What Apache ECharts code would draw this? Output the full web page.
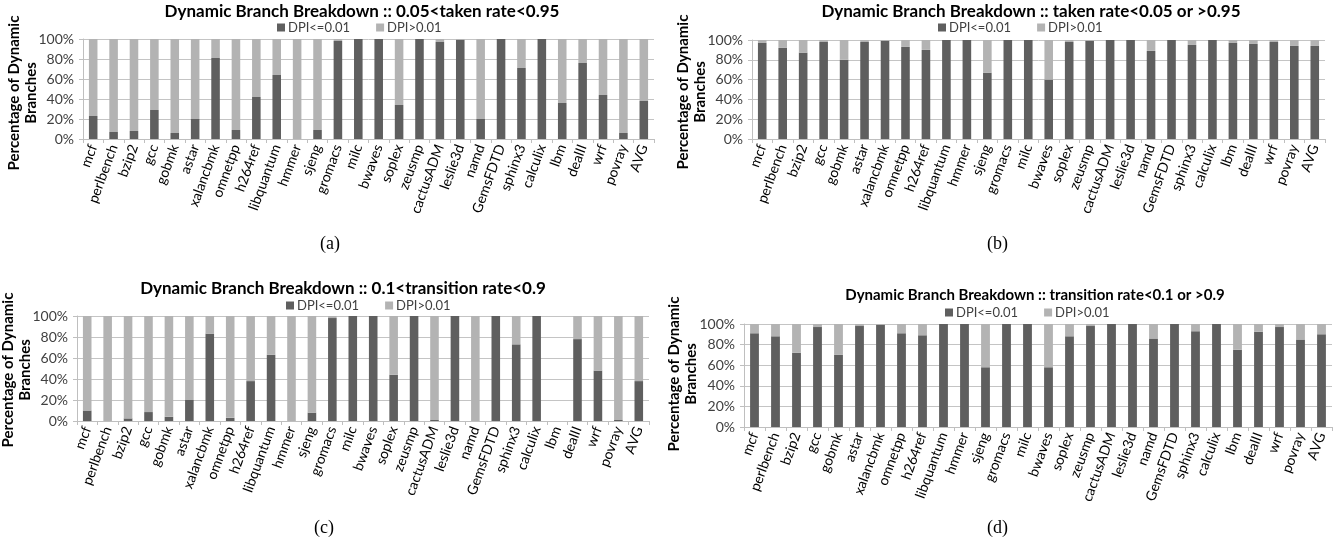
<!DOCTYPE html>
<html>
<head>
<meta charset="utf-8">
<script src="https://cdn.jsdelivr.net/npm/echarts@6/dist/echarts.min.js"></script>
<style>
  html, body { margin: 0; padding: 0; background: #fff; }
  #chart { width: 1343px; height: 548px; }
</style>
</head>
<body>
<div id="chart"></div>
<script>
// SPEC CPU2006 benchmarks (plus the average)
const benchmarks = ['mcf','perlbench','bzip2','gcc','gobmk','astar','xalancbmk','omnetpp','h264ref','libquantum','hmmer','sjeng','gromacs','milc','bwaves','soplex','zeusmp','cactusADM','leslie3d','namd','GemsFDTD','sphinx3','calculix','lbm','dealII','wrf','povray','AVG'];

const seriesNames = ['DPI<=0.01', 'DPI>0.01'];
const yTicks = [0, 20, 40, 60, 80, 100];
const yAxisTitle = 'Percentage of Dynamic\nBranches';

// (a) 0.05 < taken rate < 0.95
const takenMidLow  = [23, 7, 8, 29, 6, 20, 81, 9, 42, 64, 0, 9, 98, 100, 100, 34, 100, 97, 99, 20, 100, 71, 100, 36, 76, 44, 6, 38];
const takenMidHigh = [77, 93, 92, 71, 94, 80, 19, 91, 58, 36, 100, 91, 2, 0, 0, 66, 0, 3, 1, 80, 0, 29, 0, 64, 24, 56, 94, 62];

// (b) taken rate < 0.05 or > 0.95
const takenEdgeLow  = [97, 92, 87, 98, 80, 98, 99, 93, 90, 100, 100, 67, 100, 100, 60, 98, 99, 100, 100, 89, 100, 95, 100, 97, 96, 98, 94, 94];
const takenEdgeHigh = [3, 8, 13, 2, 20, 2, 1, 7, 10, 0, 0, 33, 0, 0, 40, 2, 1, 0, 0, 11, 0, 5, 0, 3, 4, 2, 6, 6];

// (c) 0.1 < transition rate < 0.9
const transMidLow  = [10, 0, 2.5, 8.5, 4, 20, 83, 3, 38, 63, 0, 8, 98, 100, 100, 44, 100, 1, 100, 0, 100, 73, 100, 0, 78, 48, 1, 38];
const transMidHigh = [90, 100, 97.5, 91.5, 96, 80, 17, 97, 62, 37, 100, 92, 2, 0, 0, 56, 0, 99, 0, 100, 0, 27, 0, 0, 22, 52, 99, 62];

// (d) transition rate < 0.1 or > 0.9
const transEdgeLow  = [91, 88, 72, 97, 70, 98, 99, 91, 89, 100, 100, 58, 100, 100, 58, 88, 98, 100, 100, 86, 100, 93, 100, 75, 92.5, 97, 85, 90];
const transEdgeHigh = [9, 12, 28, 3, 30, 2, 1, 9, 11, 0, 0, 42, 0, 0, 42, 12, 2, 0, 0, 14, 0, 7, 0, 25, 7.5, 3, 15, 10];

const panelTitles = [
  'Dynamic Branch Breakdown :: 0.05<taken rate<0.95',
  'Dynamic Branch Breakdown :: taken rate<0.05 or >0.95',
  'Dynamic Branch Breakdown :: 0.1<transition rate<0.9',
  'Dynamic Branch Breakdown :: transition rate<0.1 or >0.9'
];
const captions = ['(a)', '(b)', '(c)', '(d)'];

const FONT = 'Lato, "Open Sans", sans-serif';
const DARK = '#5f5f5f';
const LIGHT = '#b3b3b3';

// layout of the four panels
const panels = [
  { low: takenMidLow,   high: takenMidHigh,   grid: { left: 83,  width: 571, top: 39,  height: 100 }, titleX: 362,  titleY: 3,   titleSize: 17, legendX: 277, legendY: 21,  capX: 331, capY: 246, nameX: 23,  nameY: 93 },
  { low: takenEdgeLow,  high: takenEdgeHigh,  grid: { left: 752, width: 573, top: 40,  height: 99 },  titleX: 1031, titleY: 3,   titleSize: 17, legendX: 938, legendY: 21,  capX: 998, capY: 246, nameX: 692, nameY: 92 },
  { low: transMidLow,   high: transMidHigh,   grid: { left: 77,  width: 572, top: 316, height: 105 }, titleX: 343,  titleY: 280, titleSize: 17, legendX: 286, legendY: 299, capX: 325, capY: 530, nameX: 17,  nameY: 370 },
  { low: transEdgeLow,  high: transEdgeHigh,  grid: { left: 744, width: 588, top: 324, height: 103 }, titleX: 1035, titleY: 288, titleSize: 15, legendX: 945, legendY: 306, capX: 998, capY: 530, nameX: 683, nameY: 374 }
];

const option = {
  animation: false,
  backgroundColor: '#fff',
  textStyle: { fontFamily: FONT },
  title: [],
  legend: [],
  grid: [],
  xAxis: [],
  yAxis: [],
  series: [],
  graphic: []
};

panels.forEach((p, i) => {
  option.title.push({
    text: panelTitles[i],
    left: p.titleX,
    top: p.titleY,
    textAlign: 'center',
    padding: 0,
    textStyle: { fontFamily: FONT, fontSize: p.titleSize, fontWeight: 'bold', color: '#000' }
  });
  option.legend.push({
    data: seriesNames,
    left: p.legendX,
    top: p.legendY,
    padding: 0,
    itemGap: 26,
    itemWidth: 8,
    itemHeight: 8,
    icon: 'rect',
    selectedMode: false,
    textStyle: { fontFamily: FONT, fontSize: 13, color: '#404040', padding: [0, 0, 0, -2] }
  });
  option.grid.push(Object.assign({ containLabel: false }, p.grid));
  option.xAxis.push({
    type: 'category',
    gridIndex: i,
    data: benchmarks,
    axisLine: { lineStyle: { color: '#bfbfbf' } },
    axisTick: { show: true, length: 4, lineStyle: { color: '#bfbfbf' } },
    axisLabel: { rotate: 70, interval: 0, margin: 6, fontSize: 14, color: '#000', fontFamily: FONT }
  });
  option.yAxis.push({
    type: 'value',
    gridIndex: i,
    min: 0,
    max: 100,
    interval: 20,
    axisLine: { show: true, lineStyle: { color: '#bfbfbf' } },
    axisTick: { show: true, length: 4, lineStyle: { color: '#bfbfbf' } },
    splitLine: { lineStyle: { color: '#c4c4c4' } },
    axisLabel: { formatter: '{value}%', fontSize: 14, color: '#404040', margin: 9, fontFamily: FONT,
      customValues: yTicks }
  });
  option.series.push({
    name: seriesNames[0], type: 'bar', stack: 'p' + i,
    xAxisIndex: i, yAxisIndex: i,
    data: p.low, barWidth: '42%',
    itemStyle: { color: DARK }
  });
  option.series.push({
    name: seriesNames[1], type: 'bar', stack: 'p' + i,
    xAxisIndex: i, yAxisIndex: i,
    data: p.high, barWidth: '42%',
    itemStyle: { color: LIGHT }
  });
  // vertical axis title, read bottom to top
  option.graphic.push({
    type: 'text',
    x: p.nameX,
    y: p.nameY,
    rotation: Math.PI / 2,
    style: {
      text: yAxisTitle,
      font: 'bold 15px ' + FONT,
      fill: '#000',
      align: 'center',
      verticalAlign: 'middle',
      lineHeight: 17
    }
  });
  option.graphic.push({
    type: 'text',
    left: p.capX - 11,
    top: p.capY - 11,
    style: { text: captions[i], font: '18px "Liberation Serif", "DejaVu Serif", serif', fill: '#000' }
  });
});

const chart = echarts.init(document.getElementById('chart'), null, { renderer: 'canvas' });
chart.setOption(option);
</script>
</body>
</html>
